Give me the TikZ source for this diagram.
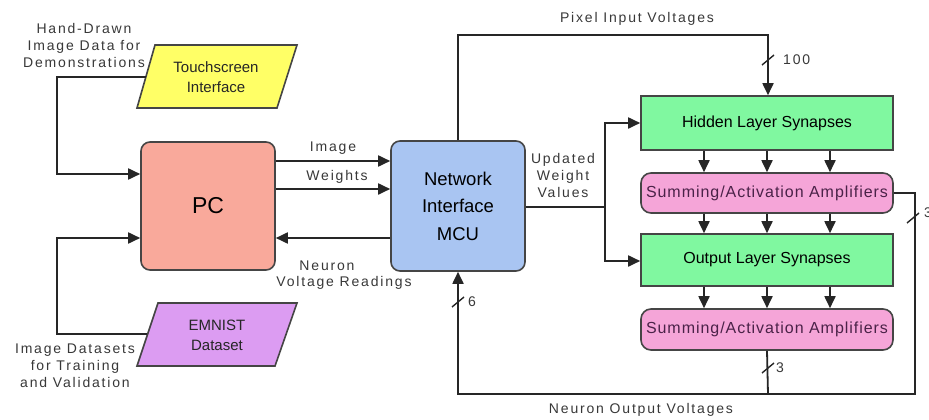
\documentclass[tikz,border=0pt]{standalone}
\usepackage{fontspec}
\setmainfont{Liberation Sans}
\newfontfamily\lblfont[LetterSpace=13]{Liberation Sans}
\newfontfamily\ampfont[LetterSpace=6]{Liberation Sans}
\usetikzlibrary{arrows.meta}

\definecolor{edgegray}{HTML}{454545}
\definecolor{labelgray}{HTML}{383838}
\definecolor{pcfill}{HTML}{F9A99B}
\definecolor{mcufill}{HTML}{A9C5F2}
\definecolor{synfill}{HTML}{80F8A0}
\definecolor{ampfill}{HTML}{F5A5D8}
\definecolor{ampText}{HTML}{4A2248}
\definecolor{touchfill}{HTML}{FFFF66}
\definecolor{emnistfill}{HTML}{DC9CF2}

% short diagonal bus-width mark centred on a point x,y
\newcommand\busslash[1]{\draw[slashline] ([shift={(-6,5)}]#1) -- ([shift={(6,-5)}]#1);}

\begin{document}
\begin{tikzpicture}[x=1pt,y=-1pt,
  boxbase/.style={draw=edgegray, line width=1.6pt, inner sep=0pt},
  pcbox/.style={boxbase, fill=pcfill, rounded corners=9pt,
    minimum width=134, minimum height=128, font=\fontsize{23}{26}\selectfont},
  mcubox/.style={boxbase, fill=mcufill, rounded corners=9pt, align=center,
    minimum width=134, minimum height=130, font=\fontsize{18.5}{27.5}\selectfont},
  synbox/.style={boxbase, fill=synfill, minimum width=252,
    font=\fontsize{16}{19}\selectfont},
  ampbox/.style={boxbase, fill=ampfill, rounded corners=10pt, minimum width=252,
    text=ampText, font=\ampfont\fontsize{16}{19}\selectfont},
  ioshape/.style={draw=edgegray, line width=1.6pt},
  iotext/.style={align=center, font=\fontsize{15}{20}\selectfont, text=black!85},
  wire/.style={draw=black!85, line width=1.8pt},
  arr/.style={wire, -{Triangle[length=12pt,width=11pt]}},
  slashline/.style={draw=black!85, line width=1.4pt},
  lbl/.style={align=center, text=labelgray, font=\lblfont\fontsize{14}{17}\selectfont, inner sep=0pt}
]
\useasboundingbox (0,0) rectangle (929,420);

% main blocks
\node[pcbox] (pc) at (208,206) {PC};
\node[mcubox] (mcu) at (458,206) {Network\\Interface\\MCU};
\node[synbox, minimum height=54] (hid) at (767,123) {Hidden Layer Synapses};
\node[ampbox, minimum height=40] (amp1) at (767,193) {Summing/Activation Amplifiers};
\node[synbox, minimum height=52] (outl) at (767,260) {Output Layer Synapses};
\node[ampbox, minimum height=41] (amp2) at (767,329.5) {Summing/Activation Amplifiers};

% input/output parallelograms
\draw[ioshape, fill=touchfill] (155,45) -- (297,45) -- (277,108) -- (137,108) -- cycle;
\node[iotext] (ts) at (216,77) {Touchscreen\\Interface};
\coordinate (tsL) at (146,77);
\draw[ioshape, fill=emnistfill] (158,303) -- (297,303) -- (275,366) -- (137,366) -- cycle;
\node[iotext] (em) at (217,335) {EMNIST\\Dataset};
\coordinate (emL) at (147,334);

% data sources into the PC
\draw[arr] (tsL) -- (57,77) -- (57,174) -- (pc.west |- 0,174);
\draw[arr] (emL) -- (57,334) -- (57,238) -- (pc.west |- 0,238);

% PC <-> MCU
\draw[arr] (pc.east |- 0,161) -- (mcu.west |- 0,161);
\draw[arr] (pc.east |- 0,189) -- (mcu.west |- 0,189);
\draw[arr] (mcu.west |- 0,238) -- (pc.east |- 0,238);

% pixel input voltages
\draw[arr] (mcu.north) -- (458,35) -- (768,35) -- (hid.north -| 768,0);
\busslash{768,60}

% updated weights
\draw[arr] (mcu.east |- 0,207) -- (605,207) |- (hid.west);
\draw[arr] (605,207) |- (outl.west |- 0,261);

% layer to layer
\foreach \dx in {-63,0,63}{
  \draw[arr] ([xshift=\dx pt]hid.south) -- ([xshift=\dx pt]amp1.north);
  \draw[arr] ([xshift=\dx pt]amp1.south) -- ([xshift=\dx pt]outl.north);
  \draw[arr] ([xshift=\dx pt]outl.south) -- ([xshift=\dx pt]amp2.north);
}

% neuron output voltages back to the MCU
\draw[arr] (amp1.east) -- (915,193) -- (915,394) -- (458,394) -- (mcu.south);
\draw[wire] (amp2.south) -- (768,394);
\busslash{913,218}
\busslash{768,368}
\busslash{458,302}

% labels
\node[lbl] (lpix) at (637,19) {Pixel Input Voltages};
\node[lbl, anchor=west] (l100) at (783,60) {100};
\node[lbl, anchor=west] (l3a) at (924,213) {3};
\node[lbl, anchor=west] (l3b) at (776,368) {3};
\node[lbl, anchor=west] (l6) at (468,302) {6};
\node[lbl] (limg) at (333,148) {Image};
\node[lbl] (lw) at (337,177) {Weights};
\node[lbl] (lnr1) at (327,266) {Neuron};
\node[lbl] (lnr2) at (344,283) {Voltage Readings};
\node[lbl] (luw) at (563,175) {Updated\\Weight\\Values};
\node[lbl] (lnov) at (641,410) {Neuron Output Voltages};
\node[lbl] (lhd) at (84,45) {Hand-Drawn\\Image Data for\\Demonstrations};
\node[lbl] (lds) at (75,366) {Image Datasets\\for Training\\and Validation};
\end{tikzpicture}
\end{document}
